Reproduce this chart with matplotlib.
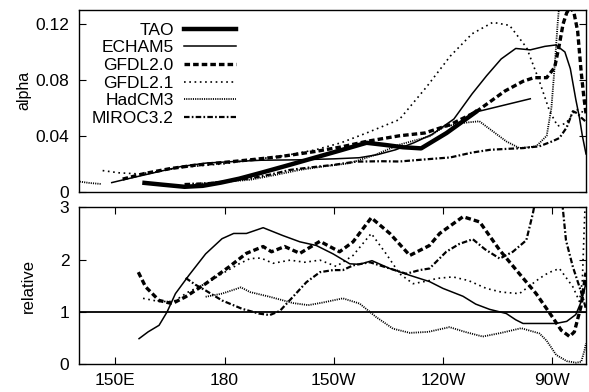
import matplotlib
matplotlib.use('Agg')
import matplotlib.pyplot as plt
import numpy as np

plt.rcParams['font.family'] = ['Liberation Sans', 'DejaVu Sans']
plt.rcParams['font.size'] = 12.5
plt.rcParams['lines.scale_dashes'] = False

# ---- top panel: alpha vs longitude (deg E) ----
tao_lon = [158, 163, 169, 174, 179, 184, 190, 198, 205, 212, 219, 224, 229, 234, 241, 249]
tao_a = [0.0063, 0.0050, 0.0035, 0.0042, 0.0065, 0.0093, 0.0135, 0.0193, 0.0245, 0.0297,
         0.0350, 0.0335, 0.0318, 0.0310, 0.0420, 0.0570]
tao_ext_lon = [249, 264]
tao_ext_a = [0.0570, 0.0665]

echam_lon = [149, 153, 158, 163, 168, 175, 182, 190, 200, 210, 217, 222, 227, 232, 237, 243,
             248, 252, 256, 260, 264, 268, 271, 273.5, 275, 276.5, 277.5, 278.3, 279.3]
echam_a = [0.0065, 0.009, 0.012, 0.015, 0.018, 0.0205, 0.0215, 0.0225, 0.0228, 0.0235, 0.0243,
           0.0265, 0.030, 0.035, 0.041, 0.052, 0.070, 0.083, 0.095, 0.1025, 0.1015, 0.104, 0.105,
           0.100, 0.088, 0.066, 0.053, 0.040, 0.027]

gfdl20_lon = [152, 158, 165, 172, 180, 187, 195, 205, 212, 219, 228, 235, 242, 249, 257, 262,
              265, 268.5, 270.7, 272, 273, 274, 275, 276, 277, 278, 278.7, 279.3]
gfdl20_a = [0.009, 0.013, 0.0165, 0.019, 0.021, 0.0228, 0.025, 0.0288, 0.032, 0.036, 0.040,
            0.042, 0.048, 0.057, 0.072, 0.079, 0.0816, 0.0816, 0.089, 0.1056, 0.120, 0.128,
            0.132, 0.128, 0.115, 0.085, 0.068, 0.056]

gfdl21_lon = [146.5, 151, 156.5, 162, 167, 173, 180, 189, 197, 205, 212, 219, 228, 235.5, 242,
              248, 253.7, 258.3, 263, 266.5, 269.3, 271.5, 273.8, 276.6, 279.3]
gfdl21_a = [0.0151, 0.0135, 0.0127, 0.0145, 0.017, 0.0185, 0.020, 0.0233, 0.026, 0.030, 0.035,
            0.042, 0.0516, 0.075, 0.097, 0.113, 0.1212, 0.119, 0.103, 0.079, 0.0576, 0.047,
            0.049, 0.059, 0.056]

hadcm3_lon = [140.2, 143, 146.2, 150, 172, 177, 182, 187, 194, 200.7, 207, 214.4, 221, 228,
              236.3, 240, 244.6, 250, 253.7, 257.4, 261, 265.6, 268.5, 269.8, 270.7, 271.5, 272.5]
hadcm3_a = [0.0072, 0.0062, 0.0055, np.nan, 0.0055, 0.0065, 0.0075, 0.0085, 0.012, 0.0156,
            0.018, 0.0204, 0.026, 0.0336, 0.0396, 0.046, 0.049, 0.0504, 0.0432, 0.036, 0.0312,
            0.0324, 0.040, 0.060, 0.090, 0.120, 0.150]

miroc_lon = [169, 175, 181, 187, 193, 198, 204, 210, 216, 223, 228, 236, 242, 248, 253, 258,
             262, 266.5, 270, 272, 274, 275.7, 277, 278, 279.3]
miroc_a = [0.0055, 0.006, 0.0075, 0.0095, 0.0125, 0.0156, 0.0175, 0.0192, 0.0215, 0.0218,
           0.0216, 0.0233, 0.0245, 0.028, 0.030, 0.0307, 0.0312, 0.0325, 0.036, 0.0384, 0.046,
           0.0576, 0.056, 0.053, 0.050]

# ---- bottom panel: relative ----
echam_rlon = [156.5, 159, 162, 164.2, 166.5, 170.2, 174.8, 179.3, 182.5, 186, 190.6, 196, 200.7,
              205.2, 209.8, 214.4, 217.1, 220.5, 225.4, 230.9, 236.3, 240, 245.5, 249, 252.8,
              257.4, 260, 262, 271, 274, 276.5, 278, 279.3]
echam_r = [0.49, 0.62, 0.745, 1.0, 1.35, 1.7, 2.11, 2.4, 2.5, 2.5, 2.61, 2.46, 2.34, 2.27, 2.11,
           1.92, 1.91, 1.98, 1.83, 1.70, 1.58, 1.45, 1.30, 1.15, 1.05, 0.97, 0.85, 0.78, 0.78,
           0.82, 0.95, 1.2, 1.55]

gfdl20_rlon = [156.3, 158.3, 162, 165.6, 169.3, 174.8, 181.2, 186, 190.6, 192.9, 196.5, 200.7,
               206.2, 211.6, 215.3, 220.3, 225.4, 230.9, 236.3, 239.1, 245.5, 250.1, 255.6, 261,
               265.6, 270.1, 272.5, 274.8, 276.1, 277.9, 279.3]
gfdl20_r = [1.76, 1.48, 1.22, 1.16, 1.29, 1.54, 1.86, 2.12, 2.25, 2.15, 2.25, 2.12, 2.35, 2.15,
            2.34, 2.80, 2.50, 2.08, 2.27, 2.50, 2.82, 2.72, 2.18, 1.73, 1.35, 0.90, 0.65, 0.53,
            0.62, 1.10, 1.75]

gfdl21_rlon = [157.6, 162, 166, 170, 175, 179.3, 184, 187, 190, 193.3, 198, 202, 206.2, 210.7,
               215.3, 220.3, 224.4, 228.1, 231.8, 236.3, 238.2, 242.7, 247, 251.9, 256, 261,
               266.5, 269, 272, 275.7, 277.5, 278.3, 278.7, 279.3]
gfdl21_r = [1.26, 1.2, 1.2, 1.38, 1.55, 1.73, 1.92, 2.02, 2.03, 1.93, 1.99, 1.95, 1.99, 1.87,
            2.08, 2.50, 2.11, 1.73, 1.54, 1.60, 1.64, 1.67, 1.60, 1.45, 1.38, 1.35, 1.64, 1.75,
            1.83, 1.48, 1.20, 1.60, 2.40, 3.50]

hadcm3_rlon = [174.8, 179.3, 184.5, 187, 192.4, 198.8, 203, 207, 212.5, 217.1, 221.7, 226.3,
               230.9, 236, 241.8, 246, 250.9, 256, 261.5, 266.5, 268.5, 271.1, 274, 276.6, 278,
               278.9, 279.3]
hadcm3_r = [1.29, 1.35, 1.47, 1.38, 1.29, 1.17, 1.13, 1.18, 1.26, 1.16, 0.90, 0.68, 0.60, 0.62,
            0.71, 0.62, 0.53, 0.60, 0.69, 0.59, 0.45, 0.18, 0.06, 0.03, 0.05, 0.27, 0.40]

miroc_rlon = [169.3, 172, 174.8, 179.3, 184.8, 189.4, 192.4, 195.2, 198.8, 202.5, 206.2, 209.8,
              212.5, 215.3, 219.9, 225.4, 229.9, 233.6, 236.3, 240.9, 244.5, 248.2, 251.5, 255.6,
              259.2, 262.9, 264.7, 265.3, 267, 271, 272.9, 273.8, 275.7, 277.5, 278.9, 279.3]
miroc_r = [1.65, 1.52, 1.41, 1.22, 1.06, 0.97, 0.94, 1.02, 1.29, 1.57, 1.76, 1.80, 1.80, 1.89,
           1.95, 1.83, 1.73, 1.80, 1.83, 2.15, 2.30, 2.39, 2.20, 2.02, 2.15, 2.37, 2.88, 3.10,
           4.20, 4.20, 3.00, 2.37, 1.86, 1.48, 1.16, 1.05]

xticks = [150, 180, 210, 240, 270]
xticklabels = ['150E', '180', '150W', '120W', '90W']

# line styles (gnuplot-ish)
st_tao = dict(color='k', lw=3.2, ls='-')
st_echam = dict(color='k', lw=1.1, ls='-')
st_g20 = dict(color='k', lw=2.4, ls=(0, (4, 2.2)))
st_g21 = dict(color='k', lw=1.2, ls=(0, (1.2, 2.6)))
st_had = dict(color='k', lw=1.3, ls=(0, (0.8, 0.8)))
st_miroc = dict(color='k', lw=1.6, ls=(0, (4, 1.6, 1.2, 1.6)))

fig = plt.figure(figsize=(5.89, 3.92), dpi=100)
ax1 = fig.add_axes([0.1341, 0.511, 0.8608, 0.4634])
ax2 = fig.add_axes([0.1341, 0.0707, 0.8608, 0.4005])

ax1.plot(tao_lon, tao_a, label='TAO', **st_tao)
ax1.plot(tao_ext_lon, tao_ext_a, color='k', lw=1.1)
ax1.plot(echam_lon, echam_a, label='ECHAM5', **st_echam)
ax1.plot(gfdl20_lon, gfdl20_a, label='GFDL2.0', **st_g20)
ax1.plot(gfdl21_lon, gfdl21_a, label='GFDL2.1', **st_g21)
ax1.plot(hadcm3_lon, hadcm3_a, label='HadCM3', **st_had)
ax1.plot(miroc_lon, miroc_a, label='MIROC3.2', **st_miroc)

ax2.axhline(1, color='k', lw=1.3)
ax2.plot(echam_rlon, echam_r, **st_echam)
ax2.plot(gfdl20_rlon, gfdl20_r, **st_g20)
ax2.plot(gfdl21_rlon, gfdl21_r, **st_g21)
ax2.plot(hadcm3_rlon, hadcm3_r, **st_had)
ax2.plot(miroc_rlon, miroc_r, **st_miroc)

for ax in (ax1, ax2):
    ax.set_xlim(140, 279.3)
    ax.tick_params(direction='in', length=5, width=0.8, top=True, right=True, pad=7)
    for s in ax.spines.values():
        s.set_linewidth(1.0)

ax1.set_ylim(0, 0.13)
ax1.set_yticks([0, 0.04, 0.08, 0.12])
ax1.set_yticklabels(['0', '0.04', '0.08', '0.12'])
ax1.tick_params(axis='x', bottom=False, top=False, labelbottom=False)
ax1.set_ylabel('alpha', fontsize=11.5)
ax1.yaxis.set_label_coords(-0.093, 0.56)

ax2.set_ylim(0, 3)
ax2.set_yticks([0, 1, 2, 3])
ax2.set_xticks(xticks)
ax2.set_xticklabels(xticklabels)
ax2.tick_params(axis='x', pad=6)
ax2.set_ylabel('relative', fontsize=12)
ax2.yaxis.set_label_coords(-0.085, 0.5)

ax1.legend(loc='upper right', bbox_to_anchor=(0.31, 0.93), frameon=False, markerfirst=False,
           handlelength=3.0, handletextpad=0.6, labelspacing=0.14, borderpad=0,
           borderaxespad=0, fontsize=12.5)

fig.savefig('out.png', dpi=100)
